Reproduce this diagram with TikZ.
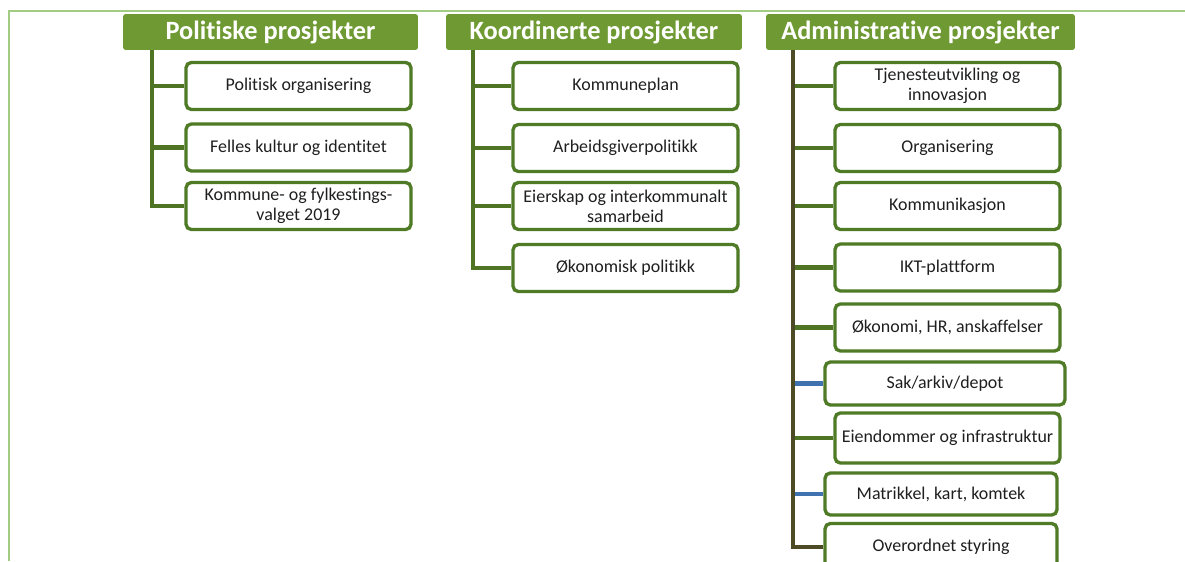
\documentclass[tikz,border=0pt]{standalone}
\usepackage{fontspec}
\setmainfont{Carlito}[Ligatures=NoCommon]
\definecolor{hdrgreen}{HTML}{6F9A33}
\definecolor{boxgreen}{HTML}{4F7A26}
\definecolor{linegreen}{HTML}{4E7424}
\definecolor{linedark}{HTML}{4D4A26}
\definecolor{lineblue}{HTML}{3F72AF}
\definecolor{framegreen}{HTML}{A2CB84}
\begin{document}
\begin{tikzpicture}[x=0.02cm,y=-0.02cm,
    hdr/.style={fill=hdrgreen, rounded corners=1.5pt, text=white, font=\bfseries\fontsize{15}{17}\selectfont, minimum height=0.72cm, inner sep=0pt},
    item/.style={draw=boxgreen, line width=1.9pt, rounded corners=3pt, fill=white, align=center, text=black!88, font=\fontsize{10.2}{11.5}\selectfont, minimum width=4.5cm, minimum height=0.94cm, inner sep=1pt},
    trunk/.style={line width=2.3pt, draw=linegreen},
    branch/.style={line width=2.3pt, draw=linegreen}]
    \useasboundingbox (0,0) rectangle (1185,561);
    % frame
    \draw [framegreen, line width=1.7pt] (9,561) -- (9,11) -- (1185,11);
    % headers
    \node [hdr, minimum width=5.9cm] (pol) at (270.5,32) {Politiske prosjekter};
    \node [hdr, minimum width=5.92cm] (koo) at (594,32) {Koordinerte prosjekter};
    \node [hdr, minimum width=6.18cm] (adm) at (920.5,32) {Administrative prosjekter};
    \coordinate (t1) at (152,50);\coordinate (t2) at (473,50);\coordinate (t3) at (793,50);
    % politiske
    \node [item] (p1) at (298.5,86) {Politisk organisering};
    \node [item] (p2) at (298.5,147.5) {Felles kultur og identitet};
    \node [item] (p3) at (298.5,206) {Kommune- og fylkestings-\\valget 2019};
    \draw [trunk] (t1) |- (p3.west);
    \draw [branch] (t1 |- p1.west) -- (p1.west);\draw [branch] (t1 |- p2.west) -- (p2.west);
    % koordinerte
    \node [item] (k1) at (625.5,86) {Kommuneplan};
    \node [item] (k2) at (625.5,148) {Arbeidsgiverpolitikk};
    \node [item] (k3) at (625.5,206) {Eierskap og interkommunalt\\samarbeid};
    \node [item] (k4) at (625.5,268) {Økonomisk politikk};
    \draw [trunk] (t2) |- (k4.west);
    \draw [branch] (t2 |- k1.west) -- (k1.west);\draw [branch] (t2 |- k2.west) -- (k2.west);
    \draw [branch] (t2 |- k3.west) -- (k3.west);
    % administrative
    \node [item] (a1) at (947.5,86) {Tjenesteutvikling og\\innovasjon};
    \node [item] (a2) at (947.5,148) {Organisering};
    \node [item] (a3) at (947.5,206) {Kommunikasjon};
    \node [item] (a4) at (947.5,267.5) {IKT-plattform};
    \node [item] (a5) at (947.5,327.5) {Økonomi, HR, anskaffelser};
    \node [item, minimum width=4.8cm, minimum height=0.86cm] (a6) at (945,383.5) {Sak/arkiv/depot};
    \node [item, minimum height=1.0cm] (a7) at (947.5,438) {Eiendommer og infrastruktur};
    \node [item, minimum width=4.64cm, minimum height=0.84cm] (a8) at (941,494) {Matrikkel, kart, komtek};
    \node [item, minimum width=4.64cm] (a9) at (941,547) {Overordnet styring};
    \foreach \n in {a1,a2,a3,a4,a5,a7}
        \draw [branch] (t3 |- \n.west) -- (\n.west);
    \draw [branch, lineblue] (t3 |- a6.west) -- (a6.west);\draw [branch, lineblue] (t3 |- a8.west) -- (a8.west);
    \draw [trunk, linedark] (t3) |- (a9.west);
\end{tikzpicture}
\end{document}
